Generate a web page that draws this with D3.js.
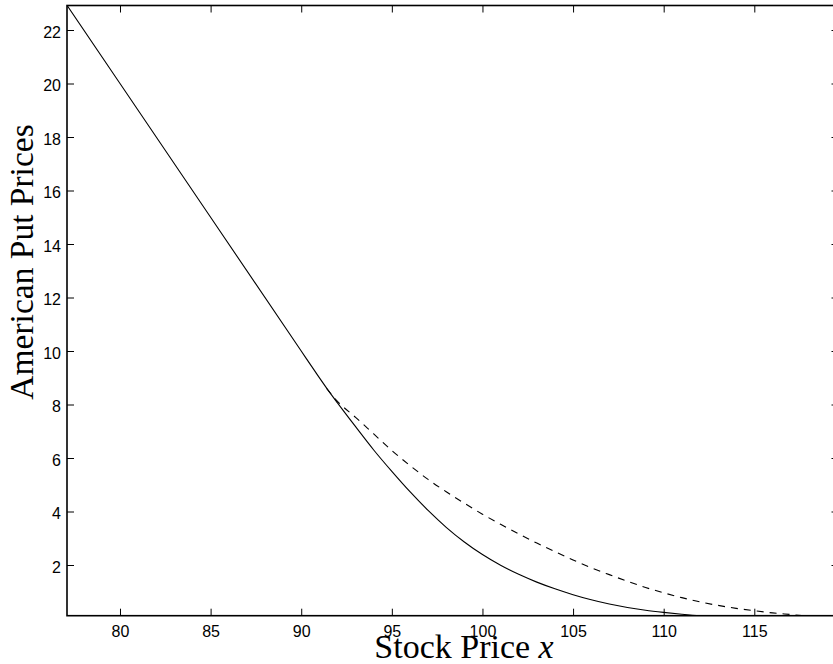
<!DOCTYPE html>
<html>
<head>
<meta charset="utf-8">
<script src="https://cdn.jsdelivr.net/npm/d3@7"></script>
<style>
  html, body { margin: 0; padding: 0; background: #fff; }
  svg { display: block; }
</style>
</head>
<body>
<svg id="chart" width="833" height="664"></svg>
<script>
// ---- data ----
const stockPrice = [77, 80, 85, 90, 90.8, 91.5, 92, 93, 94, 95, 96, 97, 98, 99, 100, 101, 102, 103, 104, 105, 106, 107, 108, 109, 110, 111, 112, 113];
const americanPut = [23, 20, 15, 10, 9.2, 8.52, 8.06, 7.17, 6.30, 5.50, 4.74, 4.04, 3.41, 2.86, 2.39, 1.99, 1.65, 1.36, 1.11, 0.89, 0.70, 0.54, 0.41, 0.31, 0.23, 0.16, 0.10, 0.06];
const stockPrice2 = [91.4, 92, 93, 94, 95, 96, 97, 98, 99, 100, 101, 102, 103, 104, 105, 106, 107, 108, 109, 110, 111, 112, 113, 114, 115, 116, 117, 118, 118.5];
const secondPrice = [8.6, 8.12, 7.52, 6.90, 6.28, 5.72, 5.20, 4.74, 4.31, 3.90, 3.52, 3.16, 2.82, 2.50, 2.19, 1.90, 1.64, 1.39, 1.16, 0.96, 0.78, 0.62, 0.49, 0.38, 0.29, 0.21, 0.15, 0.09, 0.06];
const xTicks = [80, 85, 90, 95, 100, 105, 110, 115];
const yTicks = [2, 4, 6, 8, 10, 12, 14, 16, 18, 20, 22];
const xDomain = [77.076, 119.646];
const yDomain = [0.105, 22.916];

// ---- layout ----
const L = 67, R = 838.5, T = 5.5, B = 615.7;
const svg = d3.select("#chart");
const x = d3.scaleLinear().domain(xDomain).range([L, R]);
const y = d3.scaleLinear().domain(yDomain).range([B, T]);

svg.append("defs").append("clipPath").attr("id", "clip")
  .append("rect").attr("x", L).attr("y", T).attr("width", R - L).attr("height", B - T);

const tickFont = "'Liberation Sans', Arial, Helvetica, sans-serif";

function styleAxis(g) {
  g.select(".domain").remove();
  g.selectAll(".tick line").attr("stroke", "#000").attr("stroke-width", 1);
  g.selectAll(".tick text").attr("fill", "#000").style("font-family", tickFont).style("font-size", "16px");
}

svg.append("g").attr("transform", `translate(0,${B})`)
  .call(d3.axisBottom(x).tickValues(xTicks).tickSize(-7).tickSizeOuter(0).tickPadding(10))
  .call(styleAxis);
svg.append("g").attr("transform", `translate(0,${T})`)
  .call(d3.axisTop(x).tickValues(xTicks).tickSize(-7).tickSizeOuter(0).tickFormat(""))
  .call(styleAxis);
const gl = svg.append("g").attr("transform", `translate(${L},0)`)
  .call(d3.axisLeft(y).tickValues(yTicks).tickSize(-7).tickSizeOuter(0).tickPadding(6))
  .call(styleAxis);
gl.selectAll(".tick text").attr("dy", "0.45em");
svg.append("g").attr("transform", `translate(${R},0)`)
  .call(d3.axisRight(y).tickValues(yTicks).tickSize(-7).tickSizeOuter(0).tickFormat(""))
  .call(styleAxis);

// box
svg.append("rect").attr("x", L).attr("y", T).attr("width", R - L).attr("height", B - T)
  .attr("fill", "none").attr("stroke", "#000").attr("stroke-width", 1.6);

// lines
const line = d3.line().x(d => x(d[0])).y(d => y(d[1])).curve(d3.curveMonotoneX);
const plot = svg.append("g").attr("clip-path", "url(#clip)");
plot.append("path")
  .datum(stockPrice.map((v, i) => [v, americanPut[i]]))
  .attr("d", line).attr("fill", "none").attr("stroke", "#000").attr("stroke-width", 1.1);
plot.append("path")
  .datum(stockPrice2.map((v, i) => [v, secondPrice[i]]))
  .attr("d", line).attr("fill", "none").attr("stroke", "#000").attr("stroke-width", 1.1)
  .attr("stroke-dasharray", "7,6");

// axis titles
const serif = "'Liberation Serif', 'Times New Roman', Times, serif";
const xl = svg.append("text").attr("x", 464).attr("y", 658).attr("text-anchor", "middle")
  .style("font-family", serif).style("font-size", "34px").attr("fill", "#000");
xl.append("tspan").text("Stock Price ");
xl.append("tspan").style("font-style", "italic").text("x");

svg.append("text").attr("transform", "translate(33,262) rotate(-90)").attr("text-anchor", "middle")
  .style("font-family", serif).style("font-size", "33.5px").attr("fill", "#000")
  .text("American Put Prices");
</script>
</body>
</html>
